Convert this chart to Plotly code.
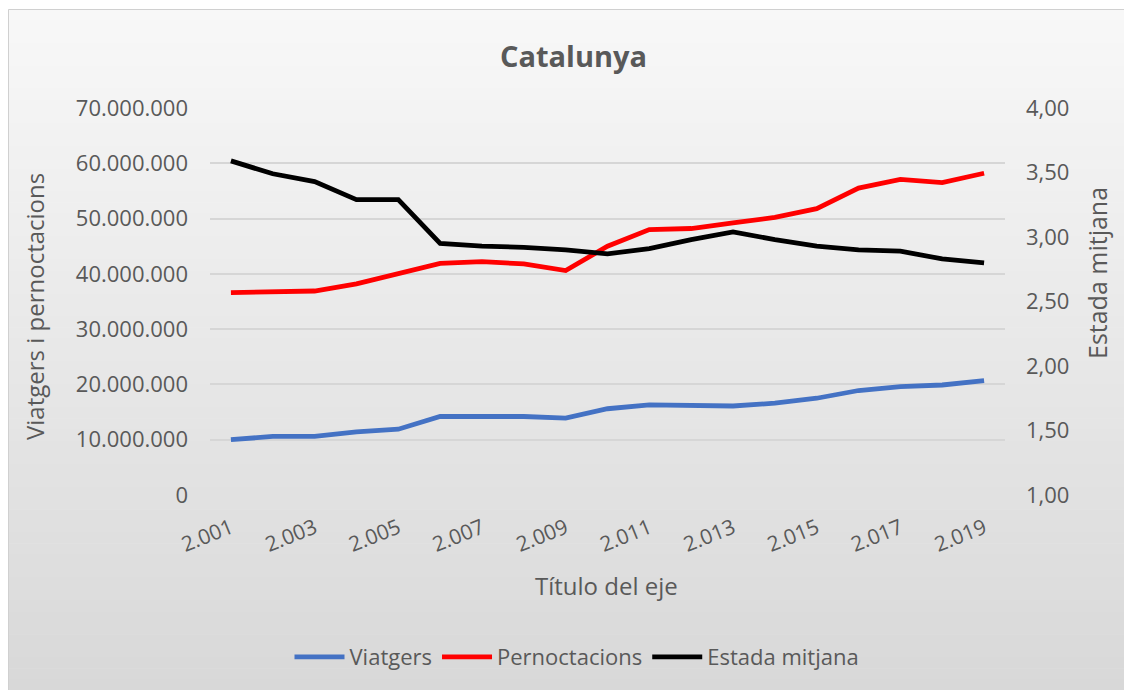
import plotly.graph_objects as go

years = list(range(2001, 2020))
viatgers = [10000000, 10600000, 10600000, 11400000, 11900000, 14200000, 14200000,
            14200000, 13900000, 15600000, 16300000, 16100000, 16100000, 16600000,
            17500000, 18900000, 19600000, 19900000, 20700000]
pernoctacions = [36600000, 36800000, 36900000, 38200000, 40100000, 41900000, 42200000,
                 41800000, 40600000, 45000000, 48000000, 48200000, 49200000, 50200000,
                 51800000, 55500000, 57100000, 56500000, 58200000]
estada = [3.59, 3.49, 3.43, 3.29, 3.29, 2.95, 2.93, 2.92, 2.90, 2.87, 2.91, 2.98,
          3.04, 2.98, 2.93, 2.90, 2.89, 2.83, 2.80]

# page coordinates (the html body adds an 8px offset)
OFF = 8
PW, PH = 1132, 690
W, H = PW - OFF, PH - OFF
L, R, T, B = 210, 1005, 108, 495
FONT = "Open Sans"
GREY = "#595959"

def px(x):
    return (x - L) / (R - L)

def py(y):
    return (B - y) / (B - T)

fig = go.Figure()
fig.add_trace(go.Scatter(x=years, y=viatgers, name="Viatgers", mode="lines",
                         line=dict(color="#4472C4", width=4.8)))
fig.add_trace(go.Scatter(x=years, y=pernoctacions, name="Pernoctacions", mode="lines",
                         line=dict(color="#FF0000", width=4.8)))
fig.add_trace(go.Scatter(x=years, y=estada, name="Estada mitjana", mode="lines",
                         line=dict(color="#000000", width=4.8), yaxis="y2"))

# gradient background card
shapes = []
top, bot = 9, 691
n = 60
c0, c1 = 248, 216
for i in range(n):
    y0 = top + (bot - top) * i / n
    y1 = top + (bot - top) * (i + 1) / n + 0.6
    c = round(c0 + (c1 - c0) * (i + 0.5) / n)
    shapes.append(dict(type="rect", xref="paper", yref="paper", layer="below",
                       x0=px(OFF), x1=px(PW + 2), y0=py(y1), y1=py(y0),
                       fillcolor=f"rgb({c},{c},{c})", line=dict(width=0)))
shapes.append(dict(type="rect", xref="paper", yref="paper", layer="below",
                   x0=px(OFF + 0.5), x1=px(PW + 2), y0=py(PH + 2), y1=py(9.5),
                   fillcolor="rgba(0,0,0,0)", line=dict(color="#d0d0d0", width=1)))

annotations = [
    dict(text="Viatgers i pernoctacions", xref="paper", yref="paper",
         x=px(34), y=py(307), textangle=-90, showarrow=False,
         font=dict(family=FONT, size=24, color=GREY), xanchor="center", yanchor="middle"),
    dict(text="Estada mitjana", xref="paper", yref="paper",
         x=px(1097), y=py(273), textangle=-90, showarrow=False,
         font=dict(family=FONT, size=25, color=GREY), xanchor="center", yanchor="middle"),
    dict(text="Título del eje", xref="paper", yref="paper",
         x=px(606), y=py(585), showarrow=False,
         font=dict(family=FONT, size=24, color=GREY), xanchor="center", yanchor="middle"),
    dict(text="<b>Catalunya</b>", xref="paper", yref="paper",
         x=px(573), y=py(55), showarrow=False,
         font=dict(family=FONT, size=29, color=GREY), xanchor="center", yanchor="middle"),
]

fig.update_layout(
    width=W, height=H,
    margin=dict(l=L - OFF, r=PW - R, t=T - OFF, b=PH - B, autoexpand=False),
    paper_bgcolor="white", plot_bgcolor="rgba(0,0,0,0)",
    separators=",.",
    font=dict(family=FONT, size=22, color=GREY),
    shapes=shapes, annotations=annotations,
    showlegend=True,
    legend=dict(orientation="h", x=px(577), xanchor="center", y=py(657), yanchor="middle",
                font=dict(family=FONT, size=22, color=GREY), bgcolor="rgba(0,0,0,0)",
                itemwidth=50, tracegroupgap=0),
    xaxis=dict(range=[2000.5, 2019.5], tickmode="linear", tick0=2001, dtick=2,
               tickformat=",d", tickangle=-22, showgrid=False, zeroline=False,
               showline=False, ticks="", ticklabelstandoff=16,
               tickfont=dict(family=FONT, size=21, color=GREY)),
    yaxis=dict(range=[0, 70000000], tickmode="linear", tick0=0, dtick=10000000,
               tickformat=",.0f", showgrid=True, gridcolor="#d6d6d6", gridwidth=1.5,
               zeroline=False, showline=False, ticks="", ticklabelstandoff=21,
               tickfont=dict(family=FONT, size=22, color=GREY)),
    yaxis2=dict(range=[1, 4], tickmode="linear", tick0=1, dtick=0.5, tickformat=".2f",
                overlaying="y", side="right", showgrid=False, zeroline=False,
                showline=False, ticks="", ticklabelstandoff=20,
                tickfont=dict(family=FONT, size=22, color=GREY)),
)

fig.write_html("out.html")
